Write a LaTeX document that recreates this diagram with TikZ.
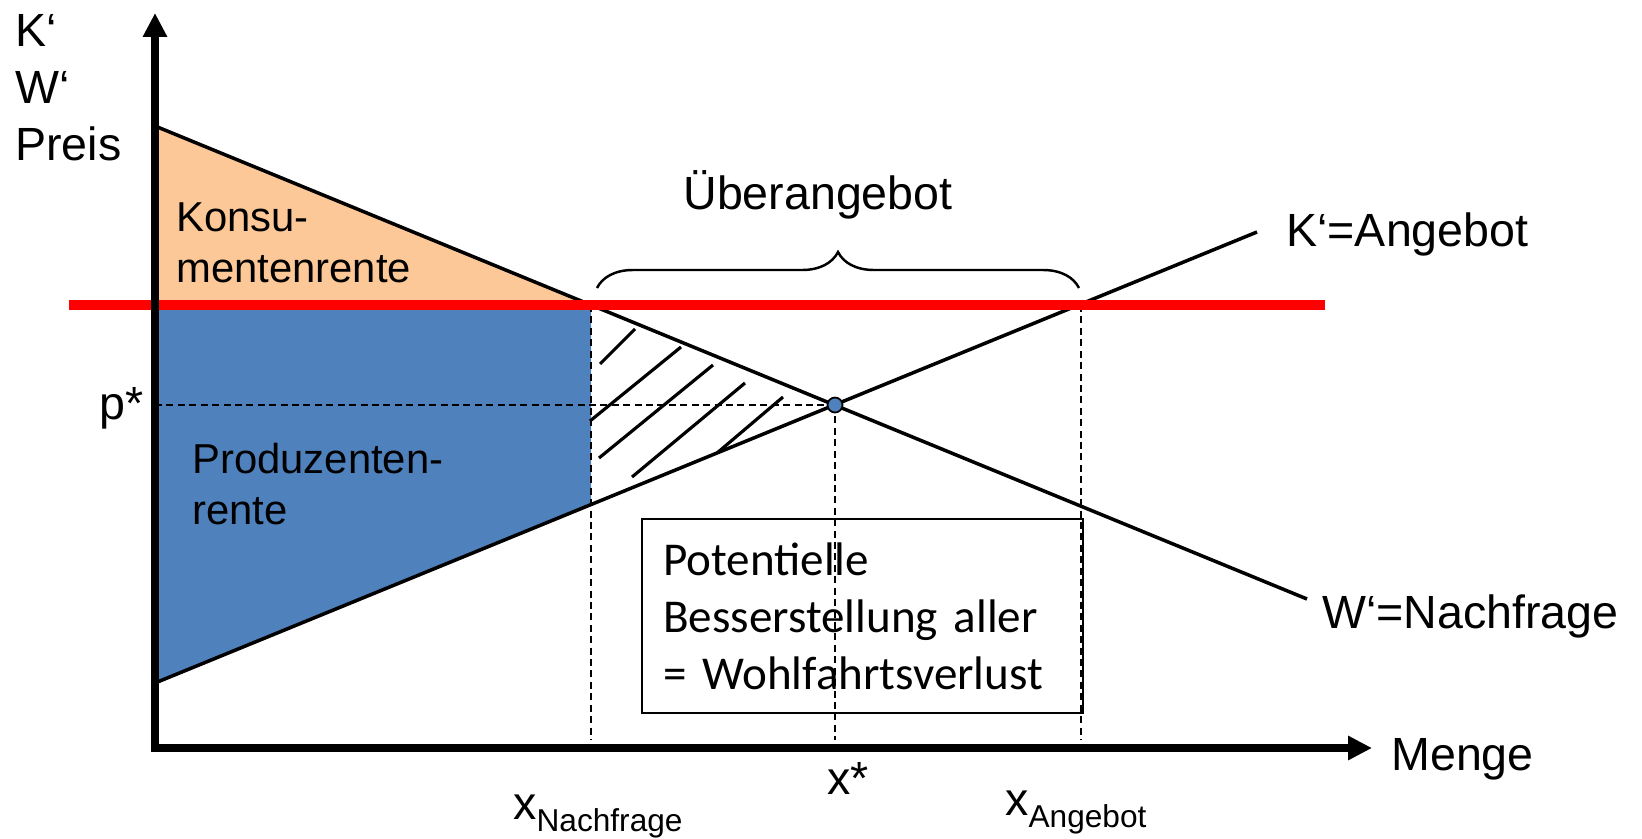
\documentclass[tikz,border=0pt]{standalone}
\usepackage{fontspec}
\setmainfont{Liberation Sans}
\newfontfamily\boxfont{Carlito}
\usetikzlibrary{arrows.meta,decorations.pathreplacing}
\definecolor{konsorange}{HTML}{FCC898}
\definecolor{prodblue}{HTML}{4F81BD}
\tikzset{
  axis/.style={line width=4pt, line cap=rect, -{Triangle[length=0.48cm, width=0.46cm]}},
  curve/.style={line width=2pt},
  hatch/.style={line width=1.8pt},
  helpline/.style={line width=1.1pt, dash pattern=on 4pt off 2.5pt},
  priceline/.style={red, line width=6.2pt},
  overbrace/.style={decorate, decoration={brace, amplitude=0.72cm}, line width=1.4pt},
  lbl/.style={anchor=base west, inner sep=0pt, align=left,
    font=\fontsize{26.5}{32.3}\selectfont},
  arealbl/.style={anchor=base west, inner sep=0pt, align=left,
    font=\fontsize{23.8}{28.5}\selectfont},
  lossbox/.style={draw, line width=1.4pt, anchor=north west, align=left,
    minimum width=8.82cm, minimum height=3.88cm, text width=7.98cm, inner xsep=0.42cm,
    font=\boxfont\fontsize{26.8}{32.3}\selectfont},
  eqdot/.style={circle, draw, fill=prodblue, line width=1pt, minimum size=0.3cm, inner sep=0pt},
}
\newcommand{\xsub}[2]{#1\raisebox{-0.24cm}{\fontsize{18}{20}\selectfont #2}}

\begin{document}
\begin{tikzpicture}[x=0.02cm, y=-0.02cm]
  \useasboundingbox (0,0) rectangle (1642,838);

  % points of the chart
  \coordinate (O)    at (155,748);
  \coordinate (ytip) at (155,13);
  \coordinate (xtip) at (1372,748);
  \coordinate (d0)   at (155,126);
  \coordinate (d1)   at (1307,599);
  \coordinate (s0)   at (155,683);
  \coordinate (s1)   at (1257,232);
  \coordinate (eq)   at (835,405);
  \coordinate (pn)   at (155,305);
  \coordinate (dn)   at (591,305);
  \coordinate (sn)   at (591,505);
  \coordinate (an)   at (1081,305);
  \coordinate (r0)   at (69,305);
  \coordinate (r1)   at (1325,305);
  \coordinate (foot) at (0,740);
  \coordinate (bl)   at (597,288);
  \coordinate (br)   at (1079,288);

  % surplus areas
  \fill[konsorange] (d0) -- (dn) -- (pn) -- cycle;
  \fill[prodblue] (pn) -- (dn) -- (sn) -- (s0) -- cycle;

  % welfare loss hatching
  \foreach \xa/\ya/\xb/\yb in {600/364/635/329, 590/421/681/347, 599/458/713/365,
                               632/477/745/383, 717/453/783/397}
    \draw[hatch] (\xa,\ya) -- (\xb,\yb);

  \draw[helpline] (O |- eq) -- (eq);
  \draw[helpline] (dn) -- (dn |- foot);
  \draw[helpline] (eq) -- (eq |- foot);
  \draw[helpline] (an) -- (an |- foot);

  \node[lossbox] (loss) at (641,518) {Potentielle\\Besserstellung aller\\= Wohlfahrtsverlust};

  \draw[curve] (d0) -- (d1);
  \draw[curve] (s0) -- (s1);
  \draw[priceline] (r0) -- (r1);

  \draw[axis] (O) -- (ytip);
  \draw[axis] (O) -- (xtip);

  \node[eqdot] (eqpt) at (eq) {};

  \draw[overbrace] (bl) -- (br);

  % labels (multi-line nodes sit on their last baseline)
  \node[lbl] (ylab) at (15,160) {K‘\\W‘\\Preis};
  \node[lbl] (pstar) at (99,419) {p*};
  \node[lbl] (menge) at (1391,770) {Menge};
  \node[lbl] (supply) at (1286,246) {K‘=Angebot};
  \node[lbl] (demand) at (1322,628) {W‘=Nachfrage};
  \node[lbl, anchor=base] (ueber) at (818,209) {Überangebot};
  \node[lbl] (xstar) at (827,794) {x*};
  \node[lbl] (xnach) at (513,819) {\xsub{x}{Nachfrage}};
  \node[lbl] (xang) at (1005,815) {\xsub{x}{Angebot}};
  \node[arealbl] (kons) at (176,282) {Konsu-\\mentenrente};
  \node[arealbl] (prod) at (192,524) {Produzenten-\\rente};

\end{tikzpicture}
\end{document}
